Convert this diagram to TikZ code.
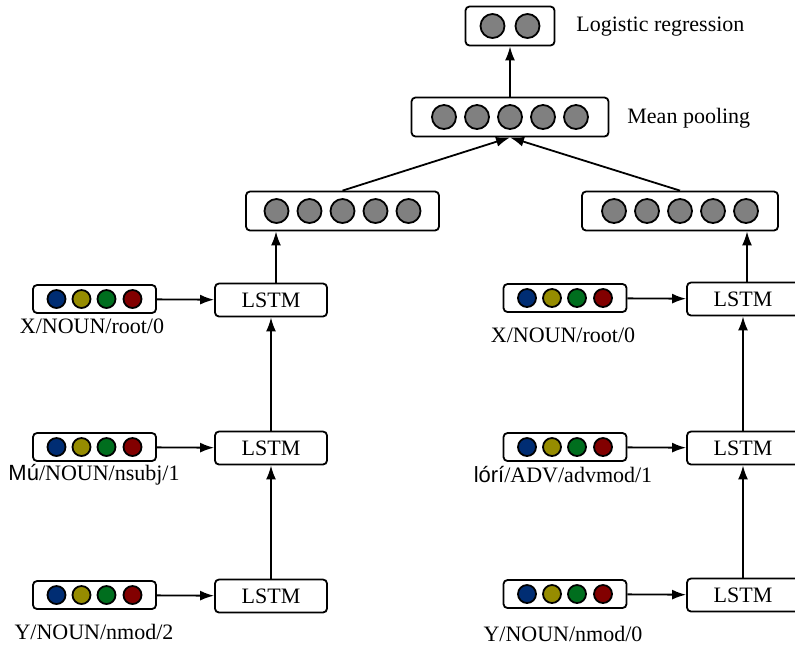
\documentclass[tikz,border=0pt]{standalone}
\usepackage{fontspec}
\setmainfont{Liberation Serif}
\newfontfamily\yofont{Liberation Sans}
\usepackage{tikz}
\usetikzlibrary{arrows.meta,positioning}

\definecolor{tokblue}{RGB}{0,45,115}
\definecolor{tokolive}{RGB}{150,140,0}
\definecolor{tokgreen}{RGB}{0,110,30}
\definecolor{tokred}{RGB}{130,0,0}

\begin{document}
\begin{tikzpicture}[x=0.5pt,y=-0.5pt,font=\fontsize{11}{13}\selectfont,
	box/.style={draw,rounded corners=2pt,line width=0.9pt,fill=white,inner sep=0pt},
	lstm/.style={box,minimum width=56pt,minimum height=16.5pt},
	emb/.style={box,minimum width=61.5pt,minimum height=14pt},
	layer/.style={box,minimum height=19.5pt},
	unit/.style={circle,draw,line width=0.9pt,fill=gray,minimum size=12pt,inner sep=0pt},
	tok/.style={circle,draw,line width=0.9pt,minimum size=9pt,inner sep=0pt},
	arr/.style={-{Latex[length=7pt,width=5pt]},line width=0.9pt}]
	\useasboundingbox (0,0) rectangle (795,645);

	\node[layer,minimum width=44.5pt] (out) at (510,26) {};
	\node[layer,minimum width=98.5pt] (mean) at (510,117) {};
	\node[layer,minimum width=96.5pt] (hidL) at (342.5,211) {};
	\node[layer,minimum width=98pt] (hidR) at (680,211) {};
	\node[anchor=west,inner sep=0pt] (outlabel) at (576,27) {Logistic regression};
	\node[anchor=west,inner sep=0pt] (meanlabel) at (627,118) {Mean pooling};

	\foreach \i/\dx in {1/-17.5,2/17.5}
		\node[unit] (out-\i) at ([xshift=\dx*0.5pt]out.center) {};
	\foreach \i/\dx in {1/-66,2/-33,3/0,4/33,5/66} {
		\node[unit] (mean-\i) at ([xshift=\dx*0.5pt]mean.center) {};
		\node[unit] (hidL-\i) at ([xshift=\dx*0.5pt]hidL.center) {};
		\node[unit] (hidR-\i) at ([xshift=\dx*0.5pt]hidR.center) {};
	}

	\node[lstm] (lstmL1) at (271,300) {LSTM};
	\node[lstm] (lstmL2) at (271,448) {LSTM};
	\node[lstm] (lstmL3) at (271,596) {LSTM};
	\node[lstm] (lstmR1) at (743,299) {LSTM};
	\node[lstm] (lstmR2) at (743,448) {LSTM};
	\node[lstm] (lstmR3) at (743,595) {LSTM};

	\node[emb] (embL1) at (94.5,299) {};
	\node[emb] (embL2) at (94.5,447) {};
	\node[emb] (embL3) at (94.5,595) {};
	\node[emb] (embR1) at (565,298) {};
	\node[emb] (embR2) at (565,447) {};
	\node[emb] (embR3) at (565,594) {};
	\foreach \e in {embL1,embL2,embL3,embR1,embR2,embR3}
		\foreach \i/\dx/\c in {1/-38/tokblue,2/-13/tokolive,3/12/tokgreen,4/38/tokred}
			\node[tok,fill=\c] (\e-\i) at ([xshift=\dx*0.5pt]\e.center) {};

	\node (wordL1) at (92,326) {X/NOUN/root/0};
	\node (wordL2) at (94,475) {{\yofont Mú}/NOUN/nsubj/1};
	\node (wordL3) at (94,632) {Y/NOUN/nmod/2};
	\node (wordR1) at (563,335) {X/NOUN/root/0};
	\node (wordR2) at (563,475) {{\yofont lórí}/ADV/advmod/1};
	\node (wordR3) at (563,634) {Y/NOUN/nmod/0};

	\draw [arr] (mean) to (out);
	\draw [arr] (hidL.north) to (mean.south);
	\draw [arr] (hidR.north) to (mean.south);
	\draw [arr] ([xshift=2.5pt]lstmL1.north) to ([xshift=2.5pt]lstmL1.north |- hidL.south);
	\draw [arr] ([xshift=2pt]lstmR1.north) to ([xshift=2pt]lstmR1.north |- hidR.south);
	\draw [arr] (lstmL2) to (lstmL1);
	\draw [arr] (lstmL3) to (lstmL2);
	\draw [arr] (lstmR2) to (lstmR1);
	\draw [arr] (lstmR3) to (lstmR2);
	\draw [arr] (embL1) to (lstmL1);
	\draw [arr] (embL2) to (lstmL2);
	\draw [arr] (embL3) to (lstmL3);
	\draw [arr] (embR1) to (lstmR1);
	\draw [arr] (embR2) to (lstmR2);
	\draw [arr] (embR3) to (lstmR3);
\end{tikzpicture}
\end{document}
